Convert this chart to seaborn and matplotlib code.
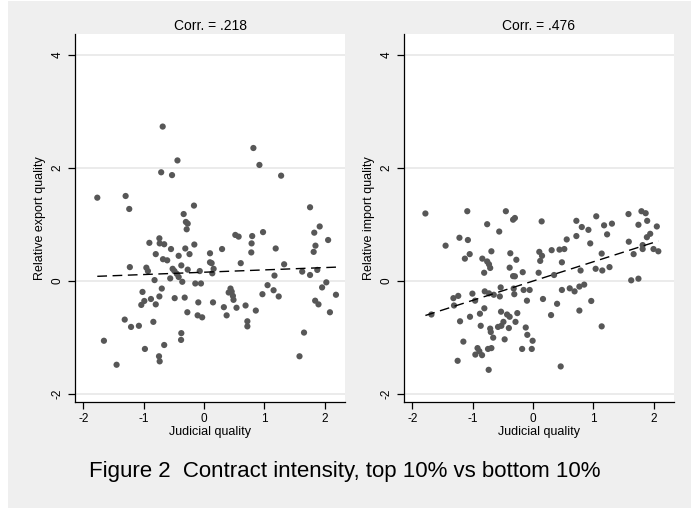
import matplotlib
matplotlib.use('Agg')
import matplotlib.pyplot as plt
from matplotlib.patches import Rectangle
import seaborn as sns
import pandas as pd

# left panel: relative export quality vs judicial quality
exp_x = [-1.77, -1.30, -0.685, -0.44, -0.71, -0.53, 0.82, 0.92, 1.28,
         -1.24, -0.166, -0.337, -0.30, -0.27, -0.287, 1.76, 1.92, 1.83, 2.06, 1.85, 1.82,
         0.52, 0.575, 0.80, 0.98, 0.79, 0.785, 1.19, 0.30, -0.906, -0.74, -0.735, -0.66,
         -0.547, -0.80, -0.68, -0.61, -0.42, -0.31, -0.16, -0.24, -0.376, -1.23, -0.956,
         -0.93, -0.52, -0.49, -0.45, -0.56, -0.42, -0.27, -0.36, -0.82, -0.07, 0.10, 0.10,
         0.127, 0.16, 0.138, 0.61, -0.144, -0.05, 1.33, 1.17, 1.63, 1.76, 1.88, 2.03, 1.96,
         2.19, 1.055, 1.155, 1.24, 0.97, 0.44, 0.46, 0.48, 0.49, 0.41, 0.54, 0.33, 0.376,
         0.69, 0.86, 0.72, 0.72, 0.15, -0.094, -0.105, -0.03, -0.276, -0.32, -0.486, -0.74,
         -0.88, -1.02, -0.99, -1.04, -0.80, -0.70, -0.84, -1.315, -1.21, -1.08, -1.66, -0.98,
         -0.66, -0.376, -0.38, -0.746, -0.735, -1.45, 1.66, 1.585, 1.845, 1.90, 2.09]
exp_y = [1.47, 1.50, 2.73, 2.13, 1.92, 1.87, 2.35, 2.05, 1.86,
         1.27, 1.33, 1.18, 1.04, 1.01, 0.91, 1.30, 0.96, 0.85, 0.72, 0.62, 0.51,
         0.81, 0.78, 0.79, 0.86, 0.66, 0.50, 0.57, 0.56, 0.67, 0.75, 0.66, 0.645,
         0.56, 0.47, 0.38, 0.36, 0.44, 0.57, 0.64, 0.47, 0.27, 0.24, 0.23,
         0.17, 0.21, 0.17, 0.12, 0.04, 0.065, 0.195, -0.02, 0.01, 0.17, 0.485, 0.325,
         0.31, 0.21, 0.13, 0.31, -0.05, -0.05, 0.29, 0.09, 0.16, 0.10, 0.19, -0.03, -0.12,
         -0.25, -0.08, -0.17, -0.28, -0.24, -0.14, -0.195, -0.27, -0.34, -0.21, -0.48, -0.47, -0.615,
         -0.44, -0.53, -0.72, -0.81, -0.385, -0.385, -0.615, -0.65, -0.56, -0.30, -0.31, -0.28,
         -0.325, -0.20, -0.36, -0.43, -0.42, -0.14, -0.73, -0.69, -0.82, -0.80, -1.065, -1.21,
         -1.14, -0.93, -1.05, -1.34, -1.43, -1.49, -0.92, -1.34, -0.355, -0.42, -0.56]

# right panel: relative import quality vs judicial quality
imp_x = [-1.785, -1.09, -0.45, -0.33, -0.30, -0.76, -0.56, 0.144, -1.45, -1.22, -1.08,
         -1.05, -1.13, -0.84, -0.69, -0.76, -0.73, -0.71, -0.81, -0.376, -0.276, -0.387,
         -0.33, -0.30, -0.17, 0.105, 0.15, 0.12, 0.094, 0.35, 0.31, 0.44, 0.52, 0.48, 0.56,
         0.72, 0.72, 0.81, 0.92, 0.95, 1.05, 1.18, 1.23, 1.31, 1.14, 1.04, 1.15, 1.27, 0.79,
         1.585, 1.80, 1.87, 1.895, 1.75, 2.055, 1.59, 1.945, 1.89, 1.82, 1.82, 1.67, 2.0,
         2.08, 1.63, 1.75, 0.48, 0.61, 0.69, 0.77, 0.85, 0.77, 0.967, 0.40, 0.166, 0.30,
         1.14, 0.46, -0.155, -0.055, -0.10, -0.536, -0.55, -0.32, -0.31, -0.73, -0.80, -0.65,
         -1.005, -0.96, -1.24, -1.32, -1.31, -1.685, -1.21, -1.045, -0.88, -0.807, -0.53,
         -0.43, -0.387, -0.26, -0.29, -0.867, -0.71, -0.70, -0.66, -0.58, -0.525, -0.49,
         -0.40, -0.47, -1.155, -0.92, -0.89, -0.956, -0.845, -0.746, -0.69, -1.25, -0.735,
         -0.18, -0.02, -0.006, -0.094, -0.12]
imp_y = [1.19, 1.23, 1.23, 1.08, 1.11, 1.00, 0.87, 1.05, 0.62, 0.76, 0.72,
         0.47, 0.39, 0.39, 0.52, 0.34, 0.29, 0.225, 0.14, 0.485, 0.37, 0.23,
         0.08, 0.077, 0.15, 0.51, 0.44, 0.35, 0.14, 0.10, 0.54, 0.55, 0.56, 0.325, 0.73,
         0.79, 1.06, 0.95, 0.90, 0.66, 1.14, 0.98, 0.82, 1.01, 0.48, 0.21, 0.18, 0.24, 0.18,
         1.18, 1.23, 1.195, 1.06, 0.99, 0.96, 0.69, 0.83, 0.77, 0.63, 0.56, 0.47, 0.56,
         0.52, 0.006, 0.035, -0.165, -0.136, -0.19, -0.105, -0.07, -0.53, -0.36, -0.41, -0.325, -0.61,
         -0.81, -1.52, -0.165, -0.165, -0.355, -0.12, -0.28, -0.14, -0.24, -0.225, -0.19, -0.25,
         -0.23, -0.355, -0.27, -0.31, -0.44, -0.60, -0.72, -0.64, -0.586, -0.49, -0.55,
         -0.60, -0.64, -0.575, -0.73, -0.80, -0.85, -0.91, -1.01, -0.82, -0.80, -0.73,
         -0.84, -1.04, -1.08, -1.195, -1.25, -1.31, -1.32, -1.21, -1.195, -1.42, -1.58,
         -1.21, -1.21, -1.065, -0.96, -0.83]

panels = [
    (exp_x, exp_y, 'Relative export quality', 'Corr. = .218'),
    (imp_x, imp_y, 'Relative import quality', 'Corr. = .476'),
]
x_ticks = [-2, -1, 0, 1, 2]
y_ticks = [-2, 0, 2, 4]

sns.set_style('white')
plt.rcParams['font.family'] = ['Liberation Sans', 'DejaVu Sans']
plt.rcParams['axes.unicode_minus'] = False
plt.rcParams['text.color'] = 'black'
plt.rcParams['axes.labelcolor'] = 'black'
plt.rcParams['xtick.color'] = 'black'
plt.rcParams['ytick.color'] = 'black'

fig = plt.figure(figsize=(6.91, 5.08), dpi=100)
fig.patch.set_facecolor('white')
fig.patches.append(Rectangle((8 / 691, 0), 1, 1 - 1 / 508, transform=fig.transFigure,
                             facecolor='#efefef', edgecolor='none', zorder=-10))

lefts = [75 / 691, 404 / 691]
for left, (xs, ys, ylab, title) in zip(lefts, panels):
    ax = fig.add_axes([left, 106 / 508, 270 / 691, 368 / 508])
    df = pd.DataFrame({'x': xs, 'y': ys})
    sns.regplot(data=df, x='x', y='y', ax=ax, ci=None,
                scatter_kws={'s': 20, 'color': '#575757', 'edgecolors': 'none', 'alpha': 1},
                line_kws={'color': 'black', 'lw': 1.0, 'dashes': (7, 4)})
    ax.set_xlim(-2.14, 2.34)
    ax.set_ylim(-2.15, 4.37)
    ax.set_xticks(x_ticks)
    ax.set_yticks(y_ticks)
    ax.set_yticklabels([str(t) for t in y_ticks], rotation=90, va='center')
    ax.set_facecolor('white')
    ax.grid(axis='y', color='#e6e6e6', lw=1.1)
    ax.grid(axis='x', visible=False)
    ax.set_axisbelow(True)
    for s in ['top', 'right']:
        ax.spines[s].set_visible(False)
    for s in ['left', 'bottom']:
        ax.spines[s].set_color('black')
        ax.spines[s].set_linewidth(0.9)
    ax.tick_params(axis='both', direction='out', length=5, width=0.9, color='black',
                   labelcolor='black', labelsize=8.5, pad=3, left=True, bottom=True)
    ax.set_xlabel('Judicial quality', fontsize=9, labelpad=1)
    ax.set_ylabel(ylab, fontsize=9, labelpad=4)
    ax.set_title(title, fontsize=10, pad=3)

fig.text(345 / 691, 1 - 472 / 508, 'Figure 2  Contract intensity, top 10% vs bottom 10%',
         ha='center', va='center', fontsize=16)

fig.savefig('out.png', dpi=100, facecolor=fig.get_facecolor())
